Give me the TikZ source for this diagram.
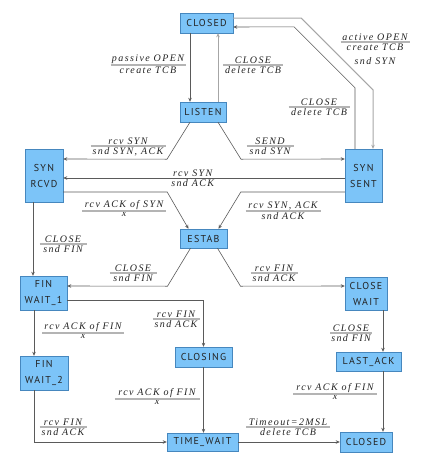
\documentclass[tikz,border=0pt]{standalone}
\usepackage{fontspec}
\setmainfont{Liberation Serif}
\newfontfamily\statefont[LetterSpace=12]{PT Sans}
\newfontfamily\transfont[LetterSpace=14]{Liberation Serif}
\usetikzlibrary{arrows.meta}

\definecolor{zustand}{RGB}{124,196,248}
\definecolor{rand}{RGB}{70,135,190}
\definecolor{kante}{RGB}{90,90,90}
\definecolor{balken}{RGB}{180,180,180}
\definecolor{schrift}{RGB}{35,35,35}

% Beschriftung eines Übergangs: Name, Position, Balkenbreite, oben, unten
\newcommand{\uebergang}[5]{%
	\coordinate (#1) at (#2);
	\node[trans, anchor=south] (#1-oben) at (#1) {#4};
	\node[trans, anchor=north] (#1-unten) at (#1) {#5};
	\draw[balken] ([xshift=-#3/2]#1) -- ([xshift=#3/2]#1);
}

\begin{document}
\begin{tikzpicture}
		[
		x=1pt, y=-1pt, >=latex,
		zustand/.style={draw=rand, fill=zustand, inner sep=1pt, align=center, text=schrift,
			font=\statefont\fontsize{10}{16}\selectfont},
		trans/.style={inner sep=1.2pt, align=center, text=schrift,
			font=\transfont\itshape\fontsize{10}{14}\selectfont},
		pfeil/.style={draw=kante, line width=0.6pt, -{Stealth[length=4pt,width=3.5pt]}},
		pfeilhell/.style={pfeil, draw=gray!70, line width=1pt},
		balken/.style={draw=balken, line width=1.2pt}
		]
		
		%Rahmen
		\useasboundingbox (0,0) rectangle (426,472);
		
		%Zustände
		\node[zustand, minimum width=53, minimum height=20] (closed) at (206.5,23) {CLOSED};
		\node[zustand, minimum width=46, minimum height=20] (listen) at (203,112) {LISTEN};
		\node[zustand, minimum width=38, minimum height=53] (synrcvd) at (44,175.5) {SYN\\RCVD};
		\node[zustand, minimum width=37, minimum height=53] (synsent) at (363.5,175.5) {SYN\\SENT};
		\node[zustand, minimum width=47, minimum height=19] (estab) at (203.5,238.5) {ESTAB};
		\node[zustand, minimum width=47, minimum height=34] (finwait1) at (43.5,293) {FIN\\WAIT\_1};
		\node[zustand, minimum width=42, minimum height=33] (closewait) at (366,293.5) {CLOSE\\WAIT};
		\node[zustand, minimum width=57, minimum height=20] (closing) at (203.5,357) {CLOSING};
		\node[zustand, minimum width=48, minimum height=34] (finwait2) at (44,373) {FIN\\WAIT\_2};
		\node[zustand, minimum width=65, minimum height=19] (lastack) at (368.5,361.5) {LAST\_ACK};
		\node[zustand, minimum width=71, minimum height=18] (timewait) at (202.5,442) {TIME\_WAIT};
		\node[zustand, minimum width=52, minimum height=20] (closedb) at (366,442) {CLOSED};
		
		%Verbindungsaufbau
		\draw[pfeil] ([xshift=-16.5pt]closed.south) -- ([xshift=-16.5pt]closed.south |- listen.north);
		\draw[pfeilhell] ([xshift=15pt]listen.north) -- ([xshift=15pt]listen.north |- closed.south);
		\draw[pfeilhell] ([yshift=5pt]closed.east) -- ++(68,0) -- ++(72,72) -- ([xshift=9.5pt]synsent.north);
		\draw[pfeil] ([xshift=-8.5pt]synsent.north) -- ++(0,-61) -- ++(-61,-61) -- ([yshift=-4pt]closed.east);
		\draw[pfeil] ([xshift=-13pt]listen.south) -- ++(-23,37) -- ([yshift=16.5pt]synrcvd.east);
		\draw[pfeil] ([xshift=15pt]listen.south) -- ++(23,37) -- ([yshift=16.5pt]synsent.west);
		\draw[pfeil] ([yshift=-2.5pt]synsent.west) -- ([yshift=-2.5pt]synrcvd.east)
			node[trans, pos=0.54, above] (simultan-oben) {rcv SYN}
			node[trans, pos=0.54, below] (simultan-unten) {snd ACK};
		\draw[pfeil] ([yshift=-16.5pt]synrcvd.east) -- ++(104,0) -- ([xshift=-15pt]estab.north);
		\draw[pfeil] ([yshift=-16.5pt]synsent.west) -- ++(-104,0) -- ([xshift=15pt]estab.north);
		
		%Verbindungsabbau
		\draw[pfeil] ([xshift=-11pt]synrcvd.south) -- ([xshift=-11pt]synrcvd.south |- finwait1.north);
		\draw[pfeil] ([xshift=-13pt]estab.south) -- ++(-23,38) -- ([yshift=7pt]finwait1.east);
		\draw[pfeil] ([xshift=14pt]estab.south) -- ++(23,38) -- ([yshift=7.5pt]closewait.west);
		\draw[pfeil] ([yshift=-7pt]finwait1.east) -| (closing.north);
		\draw[pfeil] ([xshift=-9.5pt]finwait1.south) -- ([xshift=-9.5pt]finwait1.south |- finwait2.north);
		\draw[pfeil] ([xshift=17pt]closewait.south) -- ([xshift=17pt]closewait.south |- lastack.north);
		\draw[pfeil] (closing.south) -- (closing.south |- timewait.north);
		\draw[pfeil] ([xshift=-10pt]finwait2.south) |- (timewait.west);
		\draw[pfeil] ([xshift=14.5pt]lastack.south) -- ([xshift=14.5pt]lastack.south |- closedb.north);
		\draw[pfeil] (timewait.east) -- (closedb.west);
		
		%Beschriftungen
		\uebergang{passiv}{148,65}{75}{passive OPEN}{create TCB}
		\uebergang{schliessen}{253,65}{60}{CLOSE}{delete TCB}
		\uebergang{aktiv}{375,42}{69}{active OPEN}{create TCB\\snd SYN}
		\uebergang{abbruch}{319,107}{61}{CLOSE}{delete TCB}
		\uebergang{rcvsyn}{128,146}{75}{rcv SYN}{snd SYN, ACK}
		\uebergang{send}{270,146}{47}{SEND}{snd SYN}
		\uebergang{acksyn}{124,211}{84}{rcv ACK of SYN}{x}
		\uebergang{synack}{283,211}{75}{rcv SYN, ACK}{snd ACK}
		\uebergang{closea}{63,244}{47}{CLOSE}{snd FIN}
		\uebergang{closeb}{133,273}{47}{CLOSE}{snd FIN}
		\uebergang{fina}{274,273}{47}{rcv FIN}{snd ACK}
		\uebergang{finb}{176,319}{47}{rcv FIN}{snd ACK}
		\uebergang{ackfina}{83,333}{82}{rcv ACK of FIN}{x}
		\uebergang{closec}{351,333}{42}{CLOSE}{snd FIN}
		\uebergang{ackfinb}{157,399}{85}{rcv ACK of FIN}{x}
		\uebergang{finc}{63,427}{47}{rcv FIN}{snd ACK}
		\uebergang{ackfinc}{335,394}{84}{rcv ACK of FIN}{x}
		\uebergang{timeout}{288,427}{84}{Timeout=2MSL}{delete TCB}
		
\end{tikzpicture}
\end{document}
